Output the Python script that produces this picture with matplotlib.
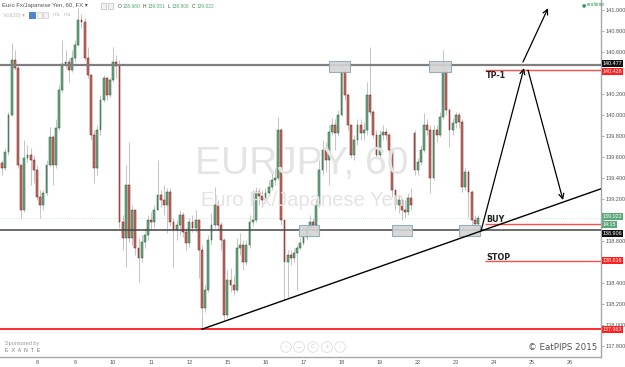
import numpy as np
import matplotlib
matplotlib.use("Agg")
import matplotlib.pyplot as plt

# EUR/JPY, 2-hour candles. x unit = trading day, 0 = start of the 8th
start_day = -11 / 12
step_day = 1 / 12

first_open = 139.55
gap_opens = {130: 139.83, 150: 138.96}   # weekend gap / last candle

closes = [
    139.50, 139.65, 140.00, 140.53, 140.45, 139.53, 139.10, 139.59, 139.62, 139.575,
    139.48, 139.22, 139.15, 139.26, 139.53, 139.79, 139.53, 139.88, 140.24, 140.49,
    140.51, 140.43, 140.55, 140.67, 140.91, 140.89, 140.55, 140.38, 139.81, 139.50,
    139.86, 140.15, 140.355, 140.19, 140.34, 140.51, 140.47, 138.98, 138.83, 139.34,
    138.83, 139.10, 138.74, 138.64, 138.79, 138.86, 139.00, 138.98, 139.10, 139.24,
    139.19, 139.15, 139.27, 138.98, 138.91, 138.955, 139.05, 138.89, 138.78, 138.98,
    138.93, 139.00, 138.72, 138.165, 138.34, 138.81, 138.955, 139.15, 138.955, 138.81,
    138.10, 138.43, 138.38, 138.34, 138.74, 138.765, 138.60, 138.765, 138.98, 139.00,
    139.27, 139.23, 139.19, 139.26, 139.32, 139.38, 139.40, 139.86, 139.00, 138.60,
    138.67, 138.64, 138.69, 138.74, 138.78, 138.84, 138.93, 138.98, 138.955, 139.15,
    139.48, 139.67, 139.575, 139.84, 139.91, 139.83, 140.00, 140.41, 140.19, 139.91,
    139.62, 139.765, 139.91, 139.83, 139.86, 140.19, 140.03, 139.81, 139.62, 139.81,
    139.84, 139.81, 139.67, 139.29, 139.15, 139.19, 139.10, 139.08, 139.21, 139.15,
    139.48, 139.555, 139.67, 139.91, 139.86, 139.40, 139.86, 139.81, 139.98, 140.41,
    140.05, 139.86, 139.93, 140.00, 139.94, 139.32, 139.46, 139.27, 139.00, 138.965,
    139.022,
]
highs = [
    139.575, 139.69, 140.03, 140.69, 140.62, 140.48, 139.53, 139.765, 139.72, 139.69,
    139.62, 139.53, 139.29, 139.29, 139.575, 139.89, 139.81, 139.96, 140.29, 140.72,
    140.62, 140.55, 140.62, 140.72, 141.02, 140.96, 140.93, 140.65, 140.38, 139.86,
    139.91, 140.19, 140.38, 140.355, 140.355, 140.65, 140.57, 140.53, 139.05, 139.53,
    139.75, 139.15, 139.10, 138.83, 138.86, 138.93, 139.05, 139.08, 139.15, 139.575,
    139.29, 139.34, 139.31, 139.31, 139.02, 139.00, 139.10, 139.08, 138.93, 139.02,
    139.05, 139.10, 139.00, 138.765, 138.38, 138.86, 139.07, 139.32, 139.19, 138.98,
    138.83, 138.53, 138.545, 138.48, 138.83, 138.88, 138.81, 138.81, 139.05, 139.29,
    139.32, 139.31, 139.29, 139.31, 139.38, 139.45, 139.50, 139.98, 139.88, 139.00,
    138.72, 138.72, 138.74, 138.765, 138.83, 138.89, 138.955, 139.05, 139.02, 139.19,
    139.575, 139.765, 139.75, 139.91, 139.97, 139.96, 140.05, 140.51, 140.45, 140.21,
    139.91, 139.81, 139.96, 139.96, 139.94, 140.32, 140.65, 140.05, 139.86, 139.86,
    139.91, 139.88, 139.83, 139.69, 139.29, 139.24, 139.21, 139.19, 139.26, 139.31,
    139.86, 139.59, 139.72, 140.02, 139.96, 139.91, 139.91, 139.91, 140.03, 140.62,
    140.45, 140.07, 139.97, 140.03, 140.03, 139.96, 139.50, 139.48, 139.29, 139.05,
    139.051,
]
lows = [
    139.43, 139.48, 139.62, 139.99, 140.43, 139.50, 139.02, 139.08, 139.555, 139.34,
    139.355, 139.19, 139.02, 139.10, 139.24, 139.52, 139.34, 139.50, 139.86, 140.22,
    140.45, 140.32, 140.41, 140.51, 140.66, 140.83, 140.53, 140.355, 139.765, 139.355,
    139.43, 139.81, 140.13, 140.15, 140.17, 140.32, 140.355, 138.93, 138.72, 138.555,
    138.79, 138.765, 138.67, 138.41, 138.60, 138.74, 138.81, 138.91, 138.93, 139.10,
    139.13, 139.05, 138.88, 138.945, 138.555, 138.81, 138.86, 138.84, 138.72, 138.745,
    138.89, 138.89, 138.45, 137.963, 138.13, 138.32, 138.765, 138.93, 138.91, 138.72,
    138.05, 138.07, 138.32, 138.29, 138.32, 138.67, 138.53, 138.575, 138.74, 138.945,
    138.98, 139.15, 139.13, 139.165, 139.23, 139.29, 139.34, 139.38, 138.955, 138.24,
    138.27, 138.575, 138.60, 138.34, 138.72, 138.765, 138.81, 138.91, 138.91, 138.93,
    139.13, 139.43, 139.46, 139.34, 139.81, 139.67, 139.80, 139.99, 140.15, 139.86,
    139.59, 139.575, 139.72, 139.765, 139.765, 139.81, 140.00, 139.78, 139.59, 139.59,
    139.765, 139.765, 139.62, 139.22, 139.10, 139.07, 139.00, 139.02, 139.05, 139.10,
    139.43, 139.43, 139.53, 139.65, 139.81, 139.26, 139.38, 139.75, 139.79, 139.96,
    140.00, 139.70, 139.81, 139.88, 139.88, 139.27, 139.29, 139.03, 138.92, 138.906,
    138.906,
]

day_labels = ['8', '9', '10', '11', '12', '15', '16', '17', '18', '19',
              '22', '23', '24', '25', '26']
price_ticks = np.arange(137.8, 141.01, 0.2)
hidden_ticks = ('140.400', '139.000', '138.600')   # covered by price tags

# analyst drawings (day, price)
resistance = 140.477
support = 138.906
tp1, buy, stop, floor_ = 140.428, 138.960, 138.616, 137.963
last_price = 139.022
trend = [(4.334, 137.963), (14.815, 139.30)]
arrows = [((11.663, 138.898), (12.792, 140.45)),
          ((12.897, 140.431), (13.817, 139.193)),
          ((12.766, 140.508), (13.423, 141.02))]
boxes = [(7.67, 8.22, 140.41, 140.52), (10.30, 10.87, 140.41, 140.52),
         (6.88, 7.41, 138.85, 138.955), (9.32, 9.85, 138.85, 138.955),
         (11.08, 11.64, 138.85, 138.955)]
plan_start = 11.77

plt.rcParams['font.family'] = ['Liberation Sans', 'DejaVu Sans']

W, H = 625, 367
fig = plt.figure(figsize=(W / 100, H / 100), dpi=100)
ax = fig.add_axes([0, 10 / H, 601 / W, 357 / H])

def ftext(x, y, s, **kw):
    # place text by pixel position from the top-left corner
    return fig.text(x / W, 1 - y / H, s, **kw)

c = np.array(closes)
hi = np.array(highs)
lo = np.array(lows)
o = np.r_[first_open, c[:-1]]
for k, v in gap_opens.items():
    o[k] = v
t = start_day + step_day * np.arange(len(c))
up = c >= o

ax.vlines(t, lo, hi, color='#c6c6c6', lw=0.75, zorder=2)
body_lo = np.minimum(o, c)
body_h = np.maximum(np.abs(c - o), 0.006)
ax.bar(t[up], body_h[up], bottom=body_lo[up], width=0.048,
       color='#6fa887', edgecolor='#1f5a33', lw=0.35, zorder=3)
ax.bar(t[~up], body_h[~up], bottom=body_lo[~up], width=0.048,
       color='#c07567', edgecolor='#7a1010', lw=0.35, zorder=3)

x0, x1 = -0.972, 14.815
ax.set_xlim(x0, x1)
ax.set_ylim(137.698, 141.098)

# levels
ax.axhline(last_price, color='#bfe0cb', lw=0.6, ls=(0, (1, 1.5)), zorder=1)
ax.axhline(resistance, color='#7f7f7f', lw=1.6, zorder=4)
ax.axhline(support, color='#444444', lw=1.1, zorder=4)
ax.axhline(floor_, color='#ff1a1a', lw=1.3, zorder=4)
for lvl in (tp1, buy, stop):
    ax.hlines(lvl, plan_start, x1, color='#ff4d4d', lw=1.0, zorder=4)

for (a, b, p0, p1) in boxes:
    ax.add_patch(plt.Rectangle((a, p0), b - a, p1 - p0, fc='#d4d4d4',
                               ec='#8ea9b7', lw=0.8, alpha=0.9, zorder=5))

ax.plot([trend[0][0], trend[1][0]], [trend[0][1], trend[1][1]],
        color='black', lw=1.0, zorder=6)
for (p, q) in arrows:
    ax.annotate('', xy=q, xytext=p, annotation_clip=False,
                arrowprops=dict(arrowstyle='->', color='black', lw=0.9,
                                mutation_scale=9, shrinkA=0, shrinkB=0),
                zorder=6)

for lab, lvl in (('TP-1', 140.38), ('BUY', 139.01), ('STOP', 138.65)):
    ax.text(plan_start + 0.03, lvl, lab, fontsize=5.8, fontweight='bold',
            family='DejaVu Sans', color='#222222', va='center', ha='left',
            zorder=7)

# axes look
for s in ('left', 'top'):
    ax.spines[s].set_visible(False)
for s in ('right', 'bottom'):
    ax.spines[s].set_color('#a8a8a8')
    ax.spines[s].set_linewidth(1.0)
ax.yaxis.tick_right()
ax.set_yticks(price_ticks)
ax.set_yticklabels(['' if '%.3f' % v in hidden_ticks else '%.3f' % v
                    for v in price_ticks])
ax.set_xticks(np.arange(len(day_labels)))
ax.set_xticklabels(day_labels)
ax.tick_params(axis='y', labelsize=4.0, labelcolor='#555555', length=2,
               width=0.5, color='#999999', pad=1)
ax.tick_params(axis='x', labelsize=4.0, labelcolor='#555555', length=0, pad=2)

# price tags on the right axis
def tag(price, s, fc, dy=0.0, z=8):
    ax.text(1.003, price + dy, s, transform=ax.get_yaxis_transform(),
            fontsize=3.9, color='white', va='center', ha='left', zorder=z,
            clip_on=False,
            bbox=dict(boxstyle='square,pad=0.18', fc=fc, ec='none'))

tag(resistance, '140.477', '#111111', dy=0.016)
tag(tp1, '140.428', '#ff2020', dy=-0.01)
tag(last_price, '139.022', '#58a878', dy=0.012)
tag(last_price, '14:15', '#58a878', dy=-0.058)
tag(support, '138.906', '#111111', dy=-0.03)
tag(stop, '138.616', '#ff2020')
tag(floor_, '137.963', '#ff2020')

# watermark
ftext(302, 164, 'EURJPY, 60', fontsize=28, color='#e4e4e4', ha='center',
      va='center', zorder=0)
ftext(302, 201, 'Euro Fx/Japanese Yen', fontsize=14.5, color='#e4e4e4',
      ha='center', va='center', zorder=0)

# header
ftext(2, 6, 'Euro Fx/Japanese Yen, 60, FX \u25be', fontsize=4.3,
      color='#555555', va='center')
for xi in (101, 108):
    fig.patches.append(plt.Rectangle((xi / W, 1 - 9 / H), 5 / W, 6 / H,
                                     transform=fig.transFigure, fc='#f2f2f2',
                                     ec='#bbbbbb', lw=0.5))
green = '#53a875'
for xi, s, col in ((118, 'O', '#444444'), (123, '138.960', green),
                   (143, 'H', '#444444'), (148, '139.051', green),
                   (168, 'L', '#444444'), (172, '138.906', green),
                   (192, 'C', '#444444'), (197, '139.022', green)):
    ftext(xi, 6, s, fontsize=3.5, color=col, va='center')
ftext(3, 15, 'Vol(20) \u25be', fontsize=4.0, color='#bbbbbb', va='center')
fig.patches.append(plt.Rectangle((29 / W, 1 - 18 / H), 6 / W, 6 / H,
                                 transform=fig.transFigure, fc='#4a86d6',
                                 ec='#2a66b6', lw=0.5))
for xi in (37, 43):
    fig.patches.append(plt.Rectangle((xi / W, 1 - 18 / H), 5 / W, 6 / H,
                                     transform=fig.transFigure, fc='#f2f2f2',
                                     ec='#cccccc', lw=0.5))
ftext(53, 15, 'n/a', fontsize=3.8, color='#bbbbbb', va='center')
ftext(64, 15, 'n/a', fontsize=3.8, color='#bbbbbb', va='center')
ftext(582, 5, '\u25cf', fontsize=3.5, color='#3c9a5f', va='center',
      family='DejaVu Sans')
ftext(587, 5, 'realtime', fontsize=3.6, color='#3c9a5f', va='center')

# footer
ftext(5, 343, 'Sponsored by', fontsize=4.0, color='#999999', va='center')
ftext(5, 351, 'E  X  A  N  T  E', fontsize=3.8, color='#777777', va='center')
for xi, g in ((286, '\u2039'), (299, '\u2212'), (313, 'C'), (327, '+'),
              (340, '\u203a')):
    ftext(xi, 347, g, fontsize=4.5, color='#cccccc', ha='center', va='center',
          family='DejaVu Sans',
          bbox=dict(boxstyle='circle,pad=0.45', fc='white', ec='#dddddd',
                    lw=0.6))
ftext(597, 348, '\u00a9 EatPIPS 2015', fontsize=6.3, color='#555555',
      ha='right', va='center', family='DejaVu Sans')

fig.savefig('out.png', dpi=100)
